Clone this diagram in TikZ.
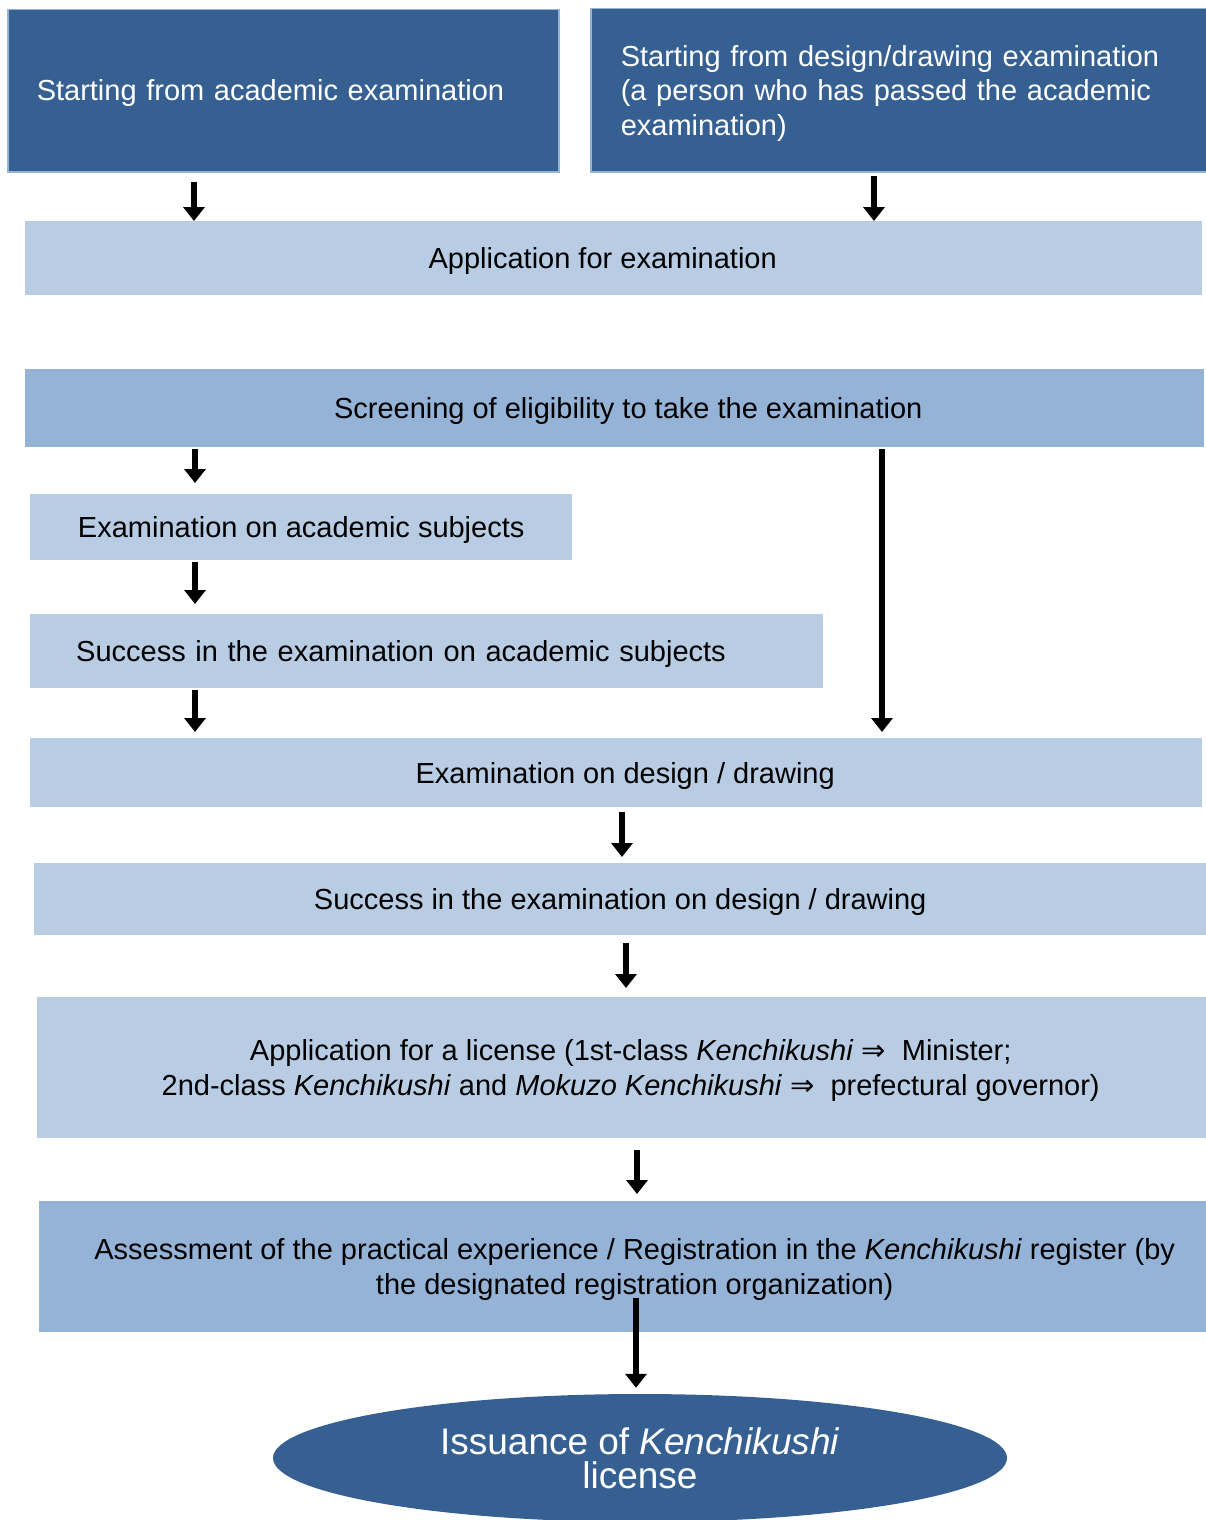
\documentclass[tikz,border=0pt]{standalone}
\usepackage{fontspec}
\setmainfont{Liberation Sans}
\newfontfamily\symfont{DejaVu Sans}
\usetikzlibrary{shapes.geometric,arrows.meta}
\definecolor{darkblue}{HTML}{366092}
\definecolor{midblue}{HTML}{95B3D7}
\definecolor{paleblue}{HTML}{B8CCE4}

\begin{document}
\begin{tikzpicture}[x=1pt,y=-1pt]
\tikzstyle{Dark} = [rectangle, draw=midblue, line width=1.5pt, fill=darkblue, text=white, anchor=north west, align=left, font=\fontsize{29pt}{34.5pt}\selectfont]
\tikzstyle{Pale} = [rectangle, fill=paleblue, anchor=north west, align=center, text depth=-3pt, font=\fontsize{29pt}{34.5pt}\selectfont]
\tikzstyle{Mid} = [Pale, fill=midblue]
\tikzstyle{Flow} = [-{Triangle[width=21pt,length=14pt]}, line width=6pt, black]
\useasboundingbox (0,0) rectangle (1206,1520);
% starting points
\node[Dark, minimum width=551pt, minimum height=162pt, inner xsep=29pt, text width=493pt, text depth=1pt] (startA) at (7,9) {Starting from academic examination};
\node[Dark, minimum width=616pt, minimum height=163pt, inner xsep=30pt, text width=556pt, text height=27pt] (startB) at (590,8) {Starting from design/drawing examination\\(a person who has passed the academic\\examination)};
% steps
\node[Pale, minimum width=1177pt, minimum height=74pt] (apply) at (25,221) {\hspace*{-22pt}Application for examination};
\node[Mid, minimum width=1179pt, minimum height=78pt] (screen) at (25,369) {\hspace*{27pt}Screening of eligibility to take the examination};
\node[Pale, minimum width=542pt, minimum height=66pt] (acad) at (30,494) {Examination on academic subjects};
\node[Pale, minimum width=793pt, minimum height=74pt, inner xsep=46pt, text width=701pt, align=left] (acadok) at (30,614) {Success in the examination on academic subjects};
\node[Pale, minimum width=1172pt, minimum height=69pt] (design) at (30,738) {\hspace*{18pt}Examination on design / drawing};
\node[Pale, minimum width=1172pt, minimum height=72pt] (designok) at (34,863) {Success in the examination on design / drawing};
\node[Pale, minimum width=1169pt, minimum height=141pt] (licence) at (37,997) {\hspace*{18pt}Application for a license (1st-class \textit{Kenchikushi}~{\symfont ⇒}~ Minister;\\\hspace*{18pt}2nd-class \textit{Kenchikushi} and \textit{Mokuzo Kenchikushi}~{\symfont ⇒}~ prefectural governor)};
\node[Mid, minimum width=1167pt, minimum height=131pt] (register) at (39,1201) {\hspace*{24pt}Assessment of the practical experience / Registration in the \textit{Kenchikushi} register (by\\\hspace*{24pt}the designated registration organization)};
\node[ellipse, fill=darkblue, text=white, minimum width=734pt, minimum height=128pt, inner sep=0pt, align=center, font=\fontsize{37pt}{34pt}\selectfont] (issue) at (640,1458) {Issuance of \textit{Kenchikushi}\\license};
% arrows
\draw[Flow, shorten <=9pt] (startA.south -| 194,0) -- (apply.north -| 194,0);
\draw[Flow, shorten <=3pt] (startB.south -| 874,0) -- (apply.north -| 874,0);
\draw[Flow, shorten <=2pt, shorten >=11pt] (screen.south -| 195,0) -- (acad.north -| 195,0);
\draw[Flow, shorten <=2pt, shorten >=6pt] (screen.south -| 882,0) -- (design.north -| 882,0);
\draw[Flow, shorten <=2pt, shorten >=10pt] (acad.south -| 195,0) -- (acadok.north -| 195,0);
\draw[Flow, shorten <=2pt, shorten >=6pt] (acadok.south -| 195,0) -- (design.north -| 195,0);
\draw[Flow, shorten <=5pt, shorten >=6pt] (design.south -| 622,0) -- (designok.north -| 622,0);
\draw[Flow, shorten <=8pt, shorten >=9pt] (designok.south -| 626,0) -- (licence.north -| 626,0);
\draw[Flow, shorten <=12pt, shorten >=7pt] (licence.south -| 637,0) -- (register.north -| 637,0);
\draw[Flow, shorten <=-34pt, shorten >=6pt] (register.south -| 636,0) -- (issue.north -| 636,0);
\end{tikzpicture}
\end{document}
